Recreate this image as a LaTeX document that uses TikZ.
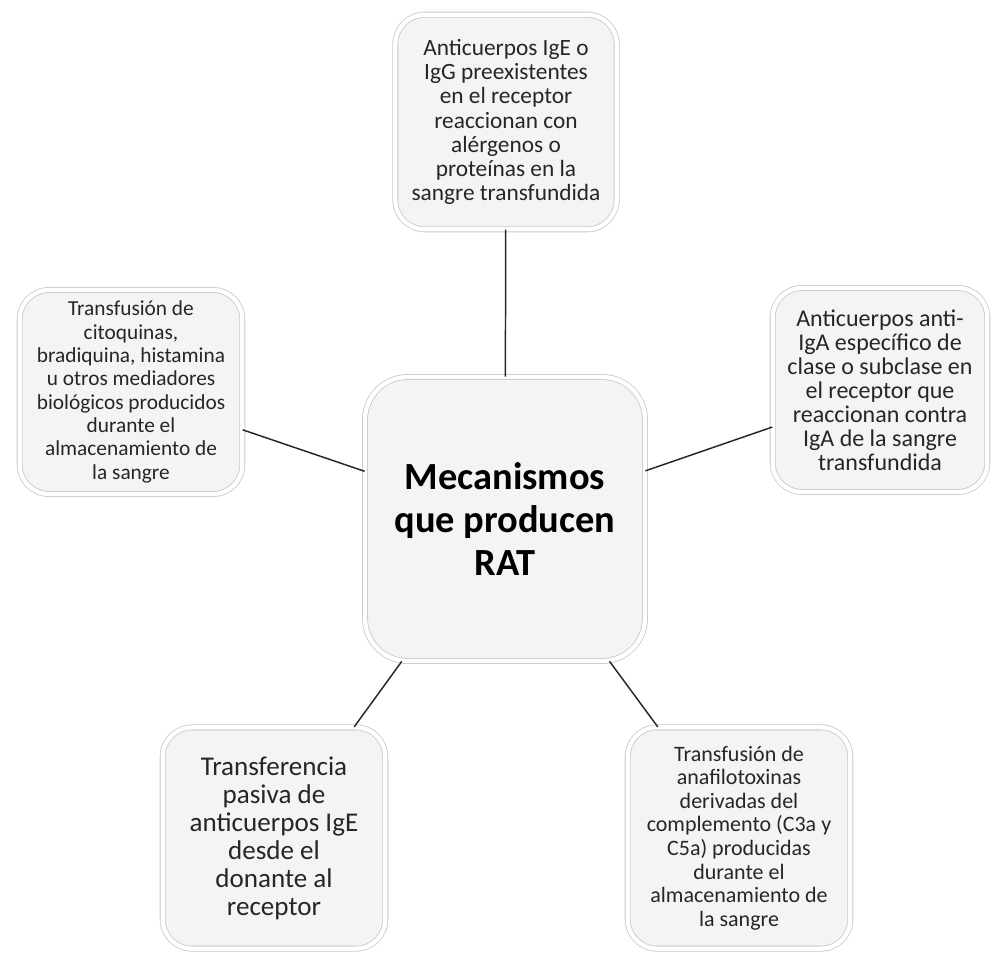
\documentclass[tikz,border=0pt]{standalone}
\usepackage{fontspec}
\setmainfont{Carlito}
\usetikzlibrary{shadows}
\definecolor{boxfill}{RGB}{244,244,244}
\definecolor{boxedge}{RGB}{200,200,200}
\definecolor{boxtext}{RGB}{38,38,38}
\begin{document}
\begin{tikzpicture}[x=0.75pt,y=-0.75pt,
    box/.style={draw=boxedge, line width=0.6pt, double=white, double distance=3.2pt,
        fill=boxfill, rounded corners=22pt, align=center, text=boxtext,
        drop shadow={opacity=0.18, shadow xshift=0.6pt, shadow yshift=-1.6pt}},
    link/.style={draw=black!85, line width=1.1pt}]
    \useasboundingbox (0,0) rectangle (992,956);

    \node[box, rounded corners=32pt, minimum width=210pt, minimum height=213pt, text=black,
        font=\fontsize{28.8}{32.5}\selectfont\bfseries] (rat) at (505,519)
        {Mecanismos\\que producen\\RAT};

    \node[box, minimum width=166pt, minimum height=161pt, font=\fontsize{17.5}{18.2}\selectfont]
        (igeigg) at (506,122)
        {Anticuerpos IgE o\\IgG preexistentes\\en el receptor\\reaccionan con\\alérgenos o\\proteínas en la\\sangre transfundida};
    \node[box, minimum width=167pt, minimum height=153pt, font=\fontsize{16}{17.5}\selectfont]
        (citoq) at (131,392)
        {Transfusión de\\citoquinas,\\bradiquina, histamina\\u otros mediadores\\biológicos producidos\\durante el\\almacenamiento de\\la sangre};
    \node[box, minimum width=161pt, minimum height=153pt, font=\fontsize{18}{18}\selectfont]
        (antiiga) at (880,390)
        {Anticuerpos anti-\\IgA específico de\\clase o subclase en\\el receptor que\\reaccionan contra\\IgA de la sangre\\transfundida};
    \node[box, minimum width=167pt, minimum height=166pt, font=\fontsize{20.3}{21}\selectfont]
        (pasiva) at (274,838)
        {Transferencia\\pasiva de\\anticuerpos IgE\\desde el\\donante al\\receptor};
    \node[box, minimum width=167pt, minimum height=166pt, font=\fontsize{16.5}{17.7}\selectfont]
        (anafilo) at (739,838)
        {Transfusión de\\anafilotoxinas\\derivadas del\\complemento (C3a y\\C5a) producidas\\durante el\\almacenamiento de\\la sangre};

    \draw[link] (rat) -- (igeigg);
    \draw[link] (rat) -- (citoq);
    \draw[link] (rat) -- (antiiga);
    \draw[link] (rat) -- (pasiva);
    \draw[link] (rat) -- (anafilo);
\end{tikzpicture}
\end{document}
